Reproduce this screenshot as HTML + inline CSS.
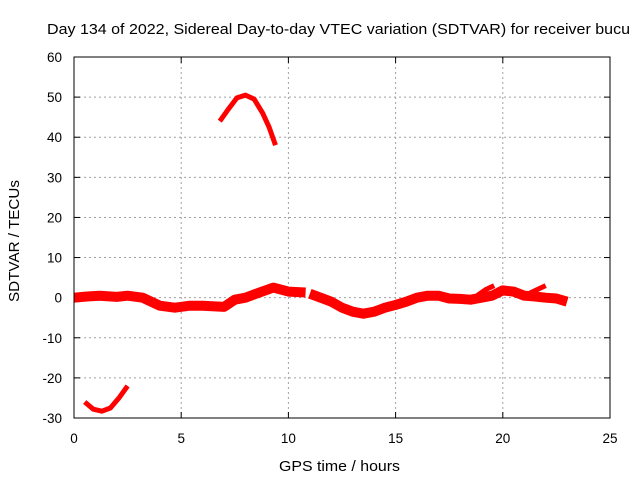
<!DOCTYPE html>
<html><head><meta charset="utf-8"><style>
body{margin:0;background:#fff;}
svg{display:block;font-family:"Liberation Sans",sans-serif;}
</style></head><body>
<svg id="chart" width="640" height="480" xmlns="http://www.w3.org/2000/svg">
<rect width="640" height="480" fill="#fff"/>
<text x="47" y="34" font-size="15" textLength="583" lengthAdjust="spacingAndGlyphs">Day 134 of 2022, Sidereal Day-to-day VTEC variation (SDTVAR) for receiver bucu</text>
<text transform="translate(19,302) rotate(-90)" font-size="15" textLength="122" lengthAdjust="spacingAndGlyphs">SDTVAR / TECUs</text>
<text x="279" y="471" font-size="15" textLength="121" lengthAdjust="spacingAndGlyphs">GPS time / hours</text>
<g id="grid"></g><g id="ticks"></g><g id="series"></g>
<rect x="74" y="57" width="536" height="361" fill="none" stroke="#000" stroke-width="1"/>
</svg>
<script>
const xTicks=[0,5,10,15,20,25];
const yTicks=[-30,-20,-10,0,10,20,30,40,50,60];
const mainA_h=[0,0.6,1.2,2,2.5,3.2,4,4.7,5.4,6,7,7.5,8,8.5,9.3,10,10.8];
const mainA_v=[0,0.3,0.5,0.2,0.5,0,-2,-2.5,-2,-2,-2.3,-0.5,0,1,2.5,1.5,1.3];
const mainB_h=[11,11.5,12,12.5,13,13.5,14,14.5,15,15.5,16,16.5,17,17.5,18,18.5,19,19.5,20,20.5,21,21.5,22,22.5,23];
const mainB_v=[1,0,-1,-2.5,-3.5,-4,-3.5,-2.5,-1.8,-1,0,0.5,0.5,-0.2,-0.3,-0.5,0,0.5,1.8,1.5,0.5,0.3,0,-0.2,-1];
const branch1_h=[18.8,19.2,19.6];
const branch1_v=[0.5,2,3];
const branch2_h=[21.2,21.6,22];
const branch2_v=[1,2,3];
const arc1_h=[0.5,0.9,1.3,1.7,2.1,2.5];
const arc1_v=[-26,-27.8,-28.3,-27.5,-25,-22];
const arc2_h=[6.8,7.2,7.6,8,8.4,8.8,9.1,9.4];
const arc2_v=[44,47,49.8,50.5,49.5,46,42.5,38];
const X=h=>74+h*536/25, Y=v=>418-(v+30)*361/90;
const NS="http://www.w3.org/2000/svg";
function mk(t,a,p){const e=document.createElementNS(NS,t);for(const k in a)e.setAttribute(k,a[k]);p.appendChild(e);return e;}
const g=document.getElementById('grid'),tk=document.getElementById('ticks'),s=document.getElementById('series');
xTicks.forEach(t=>{const x=X(t);
 if(t>0&&t<25){const l=mk('line',{x1:x,x2:x,y1:57,y2:418,stroke:'#a0a0a0','stroke-dasharray':'2,3'},g);
 }
 mk('line',{x1:x,x2:x,y1:418,y2:412,stroke:'#000'},tk);mk('line',{x1:x,x2:x,y1:57,y2:63,stroke:'#000'},tk);
 const tx=mk('text',{x:x,y:443,'font-size':'13.5','text-anchor':'middle'},tk);tx.textContent=t;
 });
yTicks.forEach(t=>{const y=Y(t);
 if(t>-30&&t<60){const l=mk('line',{x1:74,x2:610,y1:y,y2:y,stroke:'#a0a0a0','stroke-dasharray':'2,3'},g);
 }
 mk('line',{x1:74,x2:80,y1:y,y2:y,stroke:'#000'},tk);mk('line',{x1:610,x2:604,y1:y,y2:y,stroke:'#000'},tk);
 const tx=mk('text',{x:62,y:y+5,'font-size':'13.5','text-anchor':'end'},tk);tx.textContent=t;
 });
function line(hs,vs,w,name){const d=hs.map((h,i)=>(i?'L':'M')+X(h).toFixed(1)+','+Y(vs[i]).toFixed(1)).join('');
 const p=mk('path',{d:d,fill:'none',stroke:'#ff0000','stroke-width':w,'stroke-linejoin':'round'},s);
 }
line(mainA_h,mainA_v,10,'sdtvar-series-a');
line(mainB_h,mainB_v,10,'sdtvar-series-b');
line(branch1_h,branch1_v,5,'sdtvar-branch-1');
line(branch2_h,branch2_v,5,'sdtvar-branch-2');
line(arc1_h,arc1_v,5,'sdtvar-arc-low');
line(arc2_h,arc2_v,5,'sdtvar-arc-high');
</script>
</body></html>
